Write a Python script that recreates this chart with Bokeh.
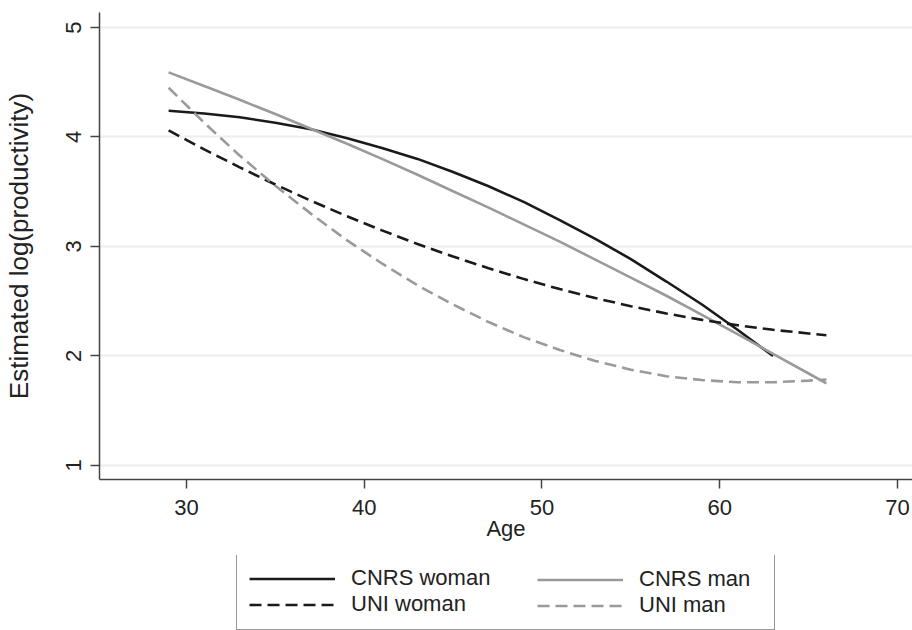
from bokeh.plotting import figure
from bokeh.layouts import column
from bokeh.models import Legend, LegendItem, Range1d
from bokeh.embed import file_html
from bokeh.resources import INLINE

# ---- data ----
ages_cnrs_woman = [29, 31, 33, 35, 37, 39, 41, 43, 45, 47, 49, 51, 53, 55, 57, 59, 61, 63]
cnrs_woman = [4.24, 4.215, 4.18, 4.13, 4.07, 3.99, 3.90, 3.80, 3.68, 3.55, 3.405, 3.24,
              3.07, 2.885, 2.68, 2.47, 2.24, 2.00]

ages_other = [29, 31, 33, 35, 37, 39, 41, 43, 45, 47, 49, 51, 53, 55, 57, 59, 61, 63, 65, 66]
cnrs_man = [4.59, 4.465, 4.34, 4.21, 4.075, 3.94, 3.80, 3.655, 3.505, 3.355, 3.20, 3.045,
            2.88, 2.715, 2.55, 2.375, 2.20, 2.02, 1.84, 1.75]
uni_woman = [4.06, 3.887, 3.723, 3.566, 3.418, 3.279, 3.147, 3.023, 2.908, 2.801, 2.702,
             2.611, 2.529, 2.455, 2.388, 2.33, 2.281, 2.239, 2.206, 2.19]
uni_man = [4.45, 4.13, 3.83, 3.555, 3.30, 3.06, 2.845, 2.645, 2.47, 2.31, 2.17, 2.055,
           1.955, 1.875, 1.815, 1.78, 1.76, 1.76, 1.775, 1.785]

x_ticks = [30, 40, 50, 60, 70]
y_ticks = [1, 2, 3, 4, 5]

series_names = ["CNRS woman", "CNRS man", "UNI woman", "UNI man"]

FONT = "Liberation Sans"
DARK = "#1a1a1a"
GRAY = "#9a9a9a"
AXIS = "#444444"
TEXT = "#222222"
styles = [dict(line_color=DARK), dict(line_color=GRAY),
          dict(line_color=DARK, line_dash="12 6"), dict(line_color=GRAY, line_dash="12 6")]
LW = 2.6
series = [(ages_cnrs_woman, cnrs_woman), (ages_other, cnrs_man),
          (ages_other, uni_woman), (ages_other, uni_man)]

# ---- main chart ----
p = figure(width=912, height=555, output_backend="svg", toolbar_location=None,
           x_range=Range1d(25.112, 70.843), y_range=Range1d(0.872, 5.137),
           min_border_left=98, min_border_right=0, min_border_top=12,
           min_border_bottom=76)
p.outline_line_color = None
p.background_fill_color = "white"
p.border_fill_color = "white"

for (xs, ys), st in zip(series, styles):
    p.line(xs, ys, line_width=LW, **st)

p.xgrid.visible = False
p.ygrid.ticker = y_ticks
p.ygrid.grid_line_color = "#eeeeee"
p.ygrid.grid_line_width = 2

for ax in (p.xaxis, p.yaxis):
    ax.axis_line_color = AXIS
    ax.axis_line_width = 1.5
    ax.major_tick_line_color = AXIS
    ax.major_tick_line_width = 1.5
    ax.major_tick_out = 9
    ax.major_tick_in = 0
    ax.minor_tick_line_color = None
    ax.major_label_text_font = FONT
    ax.major_label_text_font_size = "22px"
    ax.major_label_text_color = TEXT
    ax.axis_label_text_font = FONT
    ax.axis_label_text_font_style = "normal"
    ax.axis_label_text_color = TEXT

p.xaxis.ticker = x_ticks
p.yaxis.ticker = y_ticks
p.xaxis.axis_label = "Age"
p.yaxis.axis_label = "Estimated log(productivity)"
p.xaxis.axis_label_text_font_size = "22px"
p.yaxis.axis_label_text_font_size = "26px"
p.yaxis.major_label_orientation = "vertical"
p.xaxis.major_label_standoff = 11
p.yaxis.major_label_standoff = 9
p.xaxis.axis_label_standoff = -2
p.yaxis.axis_label_standoff = 30

# ---- legend strip (keys reuse the series, hidden; only the legend shows) ----
q = figure(width=912, height=75, output_backend="svg", toolbar_location=None,
           x_range=Range1d(0, 912), y_range=Range1d(0, 75),
           x_axis_location=None, y_axis_location=None,
           min_border_left=0, min_border_right=0, min_border_top=0, min_border_bottom=0)
q.outline_line_color = None
q.xgrid.visible = False
q.ygrid.visible = False
keys = [q.line(xs, ys, line_width=LW, visible=False, **st)
        for (xs, ys), st in zip(series, styles)]

common = dict(glyph_width=86, glyph_height=23, label_height=23, label_standoff=16,
              padding=12, spacing=-5, label_text_font=FONT, label_text_font_size="22px",
              label_text_color=TEXT, margin=0)
leg_a = Legend(items=[LegendItem(label=series_names[0], renderers=[keys[0]]),
                      LegendItem(label=series_names[2], renderers=[keys[2]])],
               location=(137, 0), label_width=411,
               border_line_color="#333333", border_line_width=1.2,
               background_fill_color="white", background_fill_alpha=1.0, **common)
leg_b = Legend(items=[LegendItem(label=series_names[1], renderers=[keys[1]]),
                      LegendItem(label=series_names[3], renderers=[keys[3]])],
               location=(438, 12), label_width=123, border_line_color=None,
               background_fill_alpha=0.0, **common)
q.add_layout(leg_a, "center")
q.add_layout(leg_b, "center")

open("out.html", "w").write(file_html(column(p, q, spacing=0), INLINE))
